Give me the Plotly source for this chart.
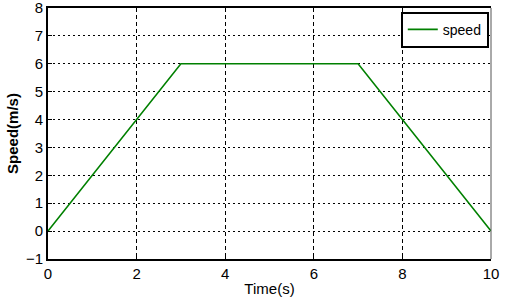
import plotly.graph_objects as go

time_s = [0, 3, 7, 10]
speed = [0, 6, 6, 0]
x_ticks = [0, 2, 4, 6, 8, 10]
y_ticks = [-1, 0, 1, 2, 3, 4, 5, 6, 7, 8]

fig = go.Figure()
fig.add_trace(go.Scatter(x=time_s, y=speed, mode="lines", name="speed",
                         line=dict(color="#008000", width=1.6)))

font = dict(family="Liberation Sans, Arial, sans-serif", size=15, color="black")
fig.update_layout(
    width=505, height=304,
    margin=dict(l=48, r=14, t=6, b=45),
    paper_bgcolor="white", plot_bgcolor="white",
    font=font,
    showlegend=True,
    legend=dict(x=0.995, y=0.985, xanchor="right", yanchor="top",
                bordercolor="black", borderwidth=2, bgcolor="white",
                font=dict(family="Liberation Sans, Arial, sans-serif", size=14),
                itemwidth=30, tracegroupgap=0),
    xaxis=dict(range=[0, 10], tickvals=x_ticks, ticks="inside", ticklen=4,
               tickcolor="black", showline=True, linecolor="black", linewidth=2,
               mirror=True, showgrid=True, gridcolor="black", gridwidth=1,
               griddash="4px,3px", zeroline=False,
               title=dict(text="Time(s)", standoff=2, font=dict(size=15))),
    yaxis=dict(range=[-1, 8], tickvals=y_ticks, ticks="inside", ticklen=4,
               tickcolor="black", showline=True, linecolor="black", linewidth=2,
               showgrid=True, gridcolor="black", gridwidth=1,
               griddash="2px,3px", zeroline=False, automargin=False,
               ticklabeloverflow="allow",
               title=dict(text="<b>Speed(m/s)</b>", standoff=4, font=dict(size=15))),
    shapes=[dict(type="line", xref="paper", yref="paper", x0=1, x1=1, y0=0, y1=1,
                 line=dict(color="#555555", width=1))],
)

fig.write_html("out.html")
